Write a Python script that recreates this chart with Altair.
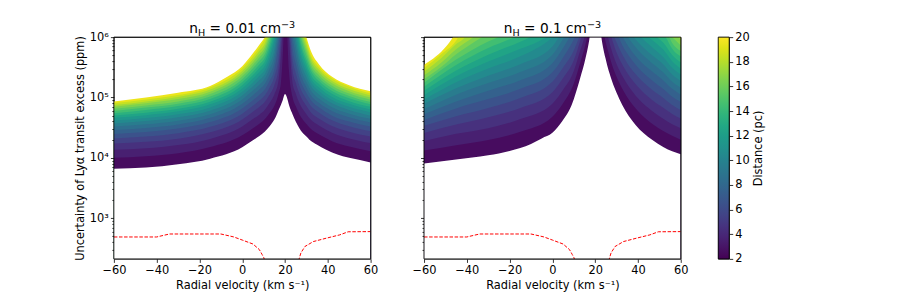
import altair as alt
import pandas as pd

FONT = "DejaVu Sans"
PW, PH = 257, 222
Y_LO, Y_HI = 212, 1e6
X_TICKS = [-60, -40, -20, 0, 20, 40, 60]
Y_TICKS = [300, 400, 500, 600, 700, 800, 900, 1000,
           2000, 3000, 4000, 5000, 6000, 7000, 8000, 9000, 10000,
           20000, 30000, 40000, 50000, 60000, 70000, 80000, 90000, 100000,
           200000, 300000, 400000, 500000, 600000, 700000, 800000, 900000, 1000000]
DIST_TICKS = [2, 4, 6, 8, 10, 12, 14, 16, 18, 20]

a_d2_x = [-60, -45, -30, -15, 0, 5, 8, 10.5, 12.7, 15, 15.8, 17, 18.1, 19, 20, 21.2, 22, 23.6, 25, 26.7, 28, 30, 31.4, 35, 39, 42, 47, 50, 60]
a_d2_y = [6.6e3, 6.9e3, 7.8e3, 9.7e3, 1.5e4, 1.95e4, 2.3e4, 2.7e4, 3.3e4, 4.3e4, 4.9e4, 6.2e4, 7.6e4, 9.2e4, 1.14e5, 9.2e4, 7.2e4, 5.2e4, 4.0e4, 3.1e4, 2.65e4, 2.25e4, 2.0e4, 1.65e4, 1.37e4, 1.23e4, 1.06e4, 1.0e4, 8.4e3]
a_d3_x = [-60, -45, -30, -15, 0, 5, 8, 10.5, 12.7, 15, 17, 18.1, 19.3, 20.2, 21.1, 21.8, 23.5, 25, 26.7, 30, 32, 36, 42, 50, 60]
a_d3_y = [1.0e4, 1.06e4, 1.19e4, 1.51e4, 2.37e4, 3.1e4, 3.67e4, 4.34e4, 5.46e4, 7.3e4, 1.17e5, 1.78e5, 1e6, 1e7, 1e6, 2.9e5, 1.02e5, 7.2e4, 5.3e4, 3.65e4, 3.04e4, 2.43e4, 1.89e4, 1.54e4, 1.29e4]
a_d4_x = [-60, -45, -30, -15, 0, 5, 8, 10.5, 12.7, 15, 17, 18.7, 20.2, 21.8, 23.5, 25, 26.7, 30, 32, 36, 42, 50, 60]
a_d4_y = [1.36e4, 1.44e4, 1.63e4, 2.06e4, 3.3e4, 4.4e4, 5.2e4, 6.2e4, 8.0e4, 1.12e5, 1.96e5, 1e6, 1e7, 1e6, 1.76e5, 1.17e5, 8.1e4, 5.3e4, 4.3e4, 3.4e4, 2.6e4, 2.1e4, 1.76e4]
a_d5_x = [-60, -45, -30, -15, 0, 5, 8, 10.5, 12.7, 15, 17, 18.3, 20.2, 22.15, 23.5, 25, 26.7, 30, 32, 36, 42, 50, 60]
a_d5_y = [1.73e4, 1.84e4, 2.08e4, 2.65e4, 4.32e4, 5.8e4, 6.98e4, 8.4e4, 1.1e5, 1.6e5, 3.1e5, 1e6, 1e7, 1e6, 2.86e5, 1.77e5, 1.16e5, 7.2e4, 5.7e4, 4.43e4, 3.37e4, 2.71e4, 2.25e4]
a_d6_x = [-60, -45, -30, -15, 0, 5, 8, 10.5, 12.7, 15, 17, 17.9, 20.2, 22.5, 23.5, 25, 26.7, 30, 32, 36, 42, 50, 60]
a_d6_y = [2.1e4, 2.25e4, 2.56e4, 3.26e4, 5.4e4, 7.3e4, 8.9e4, 1.08e5, 1.45e5, 2.2e5, 4.7e5, 1e6, 1e7, 1e6, 4.4e5, 2.57e5, 1.58e5, 9.4e4, 7.3e4, 5.6e4, 4.2e4, 3.34e4, 2.76e4]
a_d7_x = [-60, -45, -30, -15, 0, 5, 8, 10.5, 12.7, 15, 17.45, 20.2, 23.0, 23.5, 25, 26.7, 30, 32, 36, 42, 50, 60]
a_d7_y = [2.49e4, 2.68e4, 3.06e4, 3.91e4, 6.6e4, 9.0e4, 1.11e5, 1.36e5, 1.86e5, 2.92e5, 1e6, 1e7, 1e6, 6.7e5, 3.64e5, 2.12e5, 1.19e5, 9.1e4, 6.8e4, 5.0e4, 4.0e4, 3.3e4]
a_d8_x = [-60, -45, -30, -15, 0, 5, 8, 10.5, 12.7, 15, 17, 20.2, 23.5, 25, 26.7, 30, 32, 36, 42, 50, 60]
a_d8_y = [2.9e4, 3.13e4, 3.58e4, 4.6e4, 7.9e4, 1.09e5, 1.36e5, 1.67e5, 2.34e5, 3.8e5, 1e6, 1e7, 1e6, 5.0e5, 2.77e5, 1.48e5, 1.1e5, 8.1e4, 5.96e4, 4.7e4, 3.85e4]
a_d9_x = [-60, -45, -30, -15, 0, 5, 8, 10.5, 12.7, 15, 16.5, 20.2, 24.15, 25, 26.7, 30, 32, 36, 42, 50, 60]
a_d9_y = [3.3e4, 3.59e4, 4.12e4, 5.3e4, 9.3e4, 1.3e5, 1.63e5, 2.02e5, 2.9e5, 4.9e5, 1e6, 1e7, 1e6, 6.9e5, 3.56e5, 1.8e5, 1.32e5, 9.5e4, 6.9e4, 5.4e4, 4.43e4]
a_d10_x = [-60, -45, -30, -15, 0, 5, 8, 10.5, 12.7, 15, 16, 20.2, 24.8, 26.7, 30, 32, 36, 42, 50, 60]
a_d10_y = [3.7e4, 4.07e4, 4.7e4, 6.05e4, 1.08e5, 1.53e5, 1.94e5, 2.41e5, 3.54e5, 6.25e5, 1e6, 1e7, 1e6, 4.5e5, 2.18e5, 1.56e5, 1.11e5, 8.0e4, 6.2e4, 5.0e4]
a_d11_x = [-60, -45, -30, -15, 0, 5, 8, 10.5, 12.7, 15.5, 20.2, 25.4, 26.7, 30, 32, 36, 42, 50, 60]
a_d11_y = [4.15e4, 4.57e4, 5.28e4, 6.84e4, 1.24e5, 1.78e5, 2.28e5, 2.85e5, 4.28e5, 1e6, 1e7, 1e6, 5.7e5, 2.6e5, 1.82e5, 1.27e5, 9.1e4, 7.0e4, 5.66e4]
a_d12_x = [-60, -45, -30, -15, 0, 5, 8, 10.5, 12.7, 15, 20.2, 26, 26.7, 30, 32, 36, 42, 50, 60]
a_d12_y = [4.6e4, 5.1e4, 5.9e4, 7.7e4, 1.41e5, 2.06e5, 2.65e5, 3.35e5, 5.1e5, 1e6, 1e7, 1e6, 7.1e5, 3.08e5, 2.11e5, 1.45e5, 1.02e5, 7.85e4, 6.3e4]
a_d13_x = [-60, -45, -30, -15, 0, 5, 8, 10.5, 12.7, 14.4, 20.2, 26.4, 26.7, 30, 32, 36, 42, 50, 60]
a_d13_y = [5.05e4, 5.6e4, 6.5e4, 8.5e4, 1.6e5, 2.35e5, 3.08e5, 3.9e5, 6.1e5, 1e6, 1e7, 1e6, 8.8e5, 3.63e5, 2.43e5, 1.65e5, 1.15e5, 8.7e4, 7.0e4]
a_d14_x = [-60, -45, -30, -15, 0, 5, 8, 10.5, 12.7, 13.8, 20.2, 26.8, 28, 30, 32, 36, 42, 50, 60]
a_d14_y = [5.5e4, 6.2e4, 7.2e4, 9.4e4, 1.8e5, 2.68e5, 3.53e5, 4.5e5, 7.2e5, 1e6, 1e7, 1e6, 6.7e5, 4.25e5, 2.79e5, 1.85e5, 1.28e5, 9.7e4, 7.7e4]
a_d15_x = [-60, -45, -30, -15, 0, 5, 8, 10.5, 12.7, 13.25, 20.2, 27.3, 30, 32, 36, 42, 50, 60]
a_d15_y = [6.0e4, 6.8e4, 7.9e4, 1.04e5, 2.01e5, 3.04e5, 4.05e5, 5.2e5, 8.5e5, 1e6, 1e7, 1e6, 4.95e5, 3.18e5, 2.08e5, 1.42e5, 1.06e5, 8.4e4]
a_d16_x = [-60, -45, -30, -15, 0, 5, 8, 10.5, 12.7, 20.2, 27.8, 30, 32, 36, 42, 50, 60]
a_d16_y = [6.5e4, 7.4e4, 8.6e4, 1.14e5, 2.24e5, 3.43e5, 4.6e5, 6.0e5, 1e6, 1e7, 1e6, 5.7e5, 3.6e5, 2.32e5, 1.56e5, 1.16e5, 9.2e4]
a_d17_x = [-60, -45, -30, -15, 0, 5, 8, 10.5, 12.15, 20.2, 28.35, 30, 32, 36, 42, 50, 60]
a_d17_y = [7.0e4, 8.0e4, 9.4e4, 1.24e5, 2.49e5, 3.85e5, 5.2e5, 6.8e5, 1e6, 1e7, 1e6, 6.6e5, 4.06e5, 2.58e5, 1.72e5, 1.27e5, 1.0e5]
a_d18_x = [-60, -45, -30, -15, 0, 5, 8, 10.5, 11.6, 20.2, 28.9, 30, 32, 36, 42, 50, 60]
a_d18_y = [7.5e4, 8.6e4, 1.02e5, 1.35e5, 2.75e5, 4.3e5, 5.9e5, 7.8e5, 1e6, 1e7, 1e6, 7.6e5, 4.6e5, 2.85e5, 1.88e5, 1.38e5, 1.08e5]
a_d19_x = [-60, -45, -30, -15, 0, 5, 8, 11.05, 20.2, 29.45, 30, 32, 36, 42, 50, 60]
a_d19_y = [8.1e4, 9.3e4, 1.1e5, 1.47e5, 3.04e5, 4.8e5, 6.7e5, 1e6, 1e7, 1e6, 8.7e5, 5.1e5, 3.15e5, 2.06e5, 1.5e5, 1.17e5]
a_d20_x = [-60, -45, -30, -15, -7, 0, 5, 8, 10.5, 20.2, 30, 32, 36, 42, 50, 60]
a_d20_y = [8.6e4, 1.0e5, 1.2e5, 1.55e5, 2.2e5, 3.3e5, 5.4e5, 7.5e5, 1e6, 1e7, 1e6, 6.0e5, 3.5e5, 2.2e5, 1.6e5, 1.27e5]

# ============ n_H = 0.1 cm^-3 ============
b_d2_x = [-60, -45, -30, -20, -10, -5, 0, 4.5, 9, 13, 15.5, 17.4, 20.15, 22.9, 24.8, 27.9, 30, 32.6, 38.8, 46.6, 52, 60]
b_d2_y = [8.1e3, 9.4e3, 1.1e4, 1.3e4, 1.7e4, 2.1e4, 2.6e4, 4.0e4, 7.5e4, 2.1e5, 4.5e5, 1e6, 1e7, 1e6, 4.5e5, 1.86e5, 1.2e5, 7.6e4, 3.55e4, 2.0e4, 1.5e4, 1.15e4]
b_d3_x = [-60, -45, -30, -15, 0, 5, 10, 13, 16.2, 20.3, 24.4, 26, 27.9, 30, 33, 35, 40, 46.6, 52, 56, 60]
b_d3_y = [1.32e4, 1.62e4, 1.97e4, 2.7e4, 4.8e4, 8.0e4, 1.7e5, 3.77e5, 1e6, 1e7, 1e6, 5.97e5, 3.47e5, 2.21e5, 1.33e5, 1.01e5, 5.96e4, 3.66e4, 2.75e4, 2.32e4, 2.0e4]
b_d4_x = [-60, -45, -30, -15, 0, 5, 10, 13, 15, 20.5, 26, 27.9, 30, 33, 35, 40, 46.6, 52, 56, 60]
b_d4_y = [1.9e4, 2.5e4, 3.1e4, 4.4e4, 7.9e4, 1.34e5, 2.75e5, 6.0e5, 1e6, 1e7, 1e6, 5.75e5, 3.6e5, 2.18e5, 1.66e5, 9.7e4, 6.0e4, 4.4e4, 3.6e4, 3.1e4]
b_d5_x = [-60, -45, -30, -15, 0, 5, 10, 13.5, 20.5, 27.6, 30, 33, 35, 40, 46.6, 52, 56, 60]
b_d5_y = [2.58e4, 3.56e4, 4.7e4, 6.7e4, 1.22e5, 2.1e5, 4.15e5, 1e6, 1e7, 1e6, 5.56e5, 3.35e5, 2.54e5, 1.5e5, 9.1e4, 6.7e4, 5.35e4, 4.48e4]
b_d6_x = [-60, -45, -30, -15, 0, 5, 10, 12.5, 20.7, 29, 30, 33, 35, 40, 46.6, 52, 56, 60]
b_d6_y = [3.4e4, 4.9e4, 6.7e4, 9.8e4, 1.82e5, 3.15e5, 6.0e5, 1e6, 1e7, 1e6, 8.2e5, 4.9e5, 3.7e5, 2.2e5, 1.34e5, 9.7e4, 7.5e4, 6.2e4]
b_d7_x = [-60, -45, -30, -15, 0, 5, 10.5, 20.7, 31, 33, 35, 40, 46.6, 52, 56, 60]
b_d7_y = [4.25e4, 6.6e4, 9.4e4, 1.39e5, 2.61e5, 4.6e5, 1e6, 1e7, 1e6, 7.0e5, 5.35e5, 3.15e5, 1.92e5, 1.37e5, 1.03e5, 8.4e4]
b_d8_x = [-60, -45, -30, -15, 0, 5, 8, 20.5, 33, 35, 40, 46.6, 52, 56, 60]
b_d8_y = [5.3e4, 8.6e4, 1.29e5, 1.93e5, 3.7e5, 6.6e5, 1e6, 1e7, 1e6, 7.5e5, 4.4e5, 2.7e5, 1.9e5, 1.39e5, 1.12e5]
b_d9_x = [-60, -45, -30, -15, 0, 5.5, 20.4, 35.3, 40, 46.6, 52, 56, 60]
b_d9_y = [6.4e4, 1.11e5, 1.73e5, 2.64e5, 5.1e5, 1e6, 1e7, 1e6, 6.1e5, 3.7e5, 2.58e5, 1.83e5, 1.46e5]
b_d10_x = [-60, -45, -30, -15, 0, 3, 20.5, 38, 40, 46.6, 52, 56, 60]
b_d10_y = [7.8e4, 1.42e5, 2.3e5, 3.57e5, 7.0e5, 1e6, 1e7, 1e6, 8.3e5, 5.0e5, 3.5e5, 2.4e5, 1.88e5]
b_d11_x = [-60, -45, -30, -15, 0, 20.7, 41.5, 46.6, 52, 56, 60]
b_d11_y = [9.2e4, 1.79e5, 3.03e5, 4.8e5, 1e6, 1e7, 1e6, 6.8e5, 4.6e5, 3.1e5, 2.4e5]
b_d12_x = [-60, -45, -30, -15, -3, 21, 45, 46.6, 52, 56, 60]
b_d12_y = [1.09e5, 2.24e5, 3.95e5, 6.4e5, 1e6, 1e7, 1e6, 9.0e5, 6.1e5, 4.0e5, 3.0e5]
b_d13_x = [-60, -45, -30, -15, -10.5, 19, 49, 52, 56, 60]
b_d13_y = [1.29e5, 2.79e5, 5.1e5, 8.4e5, 1e6, 1e7, 1e6, 8.0e5, 5.05e5, 3.8e5]
b_d14_x = [-60, -45, -30, -18, 17.5, 53, 56, 60]
b_d14_y = [1.5e5, 3.45e5, 6.6e5, 1e6, 1e7, 1e6, 6.4e5, 4.8e5]
b_d15_x = [-60, -45, -30, -25.5, 14.5, 54.5, 56, 60]
b_d15_y = [1.75e5, 4.25e5, 8.5e5, 1e6, 1e7, 1e6, 8.0e5, 5.9e5]
b_d16_x = [-60, -52, -45, -33, 11.5, 56, 60]
b_d16_y = [2.0e5, 3.19e5, 5.2e5, 1e6, 1e7, 1e6, 7.3e5]
b_d17_x = [-60, -52, -45, -37, 11, 59, 60]
b_d17_y = [2.33e5, 3.78e5, 6.3e5, 1e6, 1e7, 1e6, 9.0e5]
b_d18_x = [-60, -52, -45, -41, -37, 60]
b_d18_y = [2.67e5, 4.47e5, 7.7e5, 1e6, 2e6, 1e7]
b_d19_x = [-60, -52, -44, -40, 60]
b_d19_y = [3.06e5, 5.2e5, 1e6, 2e6, 1e7]
b_d20_x = [-60, -54.4, -49.7, -46.5, -42, 60]
b_d20_y = [3.5e5, 4.8e5, 7.0e5, 1e6, 2e6, 1e7]

# ============ red dashed curve (same in both panels) ============
red_l_x = [-60, -40, -34, -10, -4, 0, 5, 8, 9.3, 10.0, 10.6]
red_l_y = [489, 489, 548, 548, 490, 435, 374, 302, 250, 225, 195]
red_r_x = [26.3, 27.4, 29.3, 33.2, 39.4, 45.6, 49.5, 60]
red_r_y = [195, 265, 340, 410, 468, 530, 596, 600]

VIRIDIS = ["#440154", "#471365", "#482475", "#463480", "#414487", "#3b528b", "#355f8d",
           "#2f6c8e", "#2a788e", "#25848e", "#21918c", "#1e9c89", "#22a884", "#2fb47c",
           "#44bf70", "#5ec962", "#7ad151", "#9bd93c", "#bddf26", "#dfe318", "#fde725"]

A = {d: (globals()[f"a_d{d}_x"], globals()[f"a_d{d}_y"]) for d in range(2, 21)}
B = {d: (globals()[f"b_d{d}_x"], globals()[f"b_d{d}_y"]) for d in range(2, 21)}

red_df = pd.concat([
    pd.DataFrame({"v": red_l_x, "u": red_l_y, "seg": "a"}),
    pd.DataFrame({"v": red_r_x, "u": red_r_y, "seg": "b"}),
])

MAJOR_TEST = "datum.value==1000||datum.value==10000||datum.value==100000||datum.value==1000000"
xsc = alt.Scale(domain=[-60, 60], nice=False, zero=False)
ysc = alt.Scale(type="log", domain=[Y_LO, Y_HI], nice=False)
csc = alt.Scale(scheme="viridis", domain=[2, 20])
xax = alt.Axis(values=X_TICKS, title="Radial velocity (km s⁻¹)", tickSize=3.5,
               labelPadding=2, titlePadding=4, labelFlush=False, labelOverlap=False)

ONE = pd.DataFrame({"k": [0]})


def y_axis(labels):
    kw = dict(values=Y_TICKS, labelOverlap=False, labelFlush=False,
              tickSize={"condition": {"test": MAJOR_TEST, "value": 3.5}, "value": 2},
              labelPadding=2)
    if labels:
        kw.update(labelExpr="datum.value==1000?'10³':datum.value==10000?'10⁴':"
                            "datum.value==100000?'10⁵':datum.value==1000000?'10⁶':''",
                  title="Uncertainty of Lyα transit excess (ppm)", titlePadding=4)
    else:
        kw.update(labels=False, title=None)
    return alt.Axis(**kw)


def title_layers(pieces, opacity=1):
    out = []
    for txt, px, dy, fs in pieces:
        out.append(alt.Chart(ONE).mark_text(
            text=txt, align="left", baseline="alphabetic", font=FONT, fontSize=fs,
            color="black", opacity=opacity).encode(x=alt.value(px), y=alt.value(-4 + dy)))
    return out


def frame(w, h):
    return alt.Chart(ONE).mark_rect(filled=False, stroke="black", strokeWidth=0.8).encode(
        x=alt.value(0), x2=alt.value(w), y=alt.value(0), y2=alt.value(h))


def panel(table, pieces, labels, extender=None):
    yax = y_axis(labels)
    layers = []
    for d in range(20, 2, -1):
        xs, ys = table[d]
        df = pd.DataFrame({"v": xs, "u": ys, "mid": [d - 0.5] * len(xs)})
        layers.append(alt.Chart(df).mark_area(clip=True, interpolate="monotone").encode(
            x=alt.X("v:Q", scale=xsc, axis=xax),
            y=alt.Y("u:Q", scale=ysc, axis=yax, stack=None),
            y2=alt.value(PH),
            color=alt.Color("mid:Q", scale=csc, legend=None)))
    xs, ys = table[2]
    layers.append(alt.Chart(pd.DataFrame({"v": xs, "u": ys})).mark_area(
        clip=True, color="white", interpolate="monotone").encode(
        x=alt.X("v:Q", scale=xsc, axis=xax),
        y=alt.Y("u:Q", scale=ysc, axis=yax, stack=None),
        y2=alt.value(PH)))
    layers.append(alt.Chart(red_df).mark_line(color="red", strokeWidth=1, strokeDash=[3.5, 1.6], clip=True).encode(
        x=alt.X("v:Q", scale=xsc, axis=xax),
        y=alt.Y("u:Q", scale=ysc, axis=yax),
        detail="seg:N"))
    layers.append(frame(PW, PH))
    layers += title_layers(pieces)
    if extender is not None:
        layers.append(alt.Chart(ONE).mark_point(opacity=0, size=1).encode(
            x=alt.value(extender), y=alt.value(100)))
    return alt.layer(*layers).properties(width=PW, height=PH)


left_title = [("n", 75.5, 0, 13.7), ("H", 84.2, 2.6, 9.6), ("= 0.01 cm", 95.8, 0, 13.7), ("−3", 167.4, -5, 9.6)]
right_title = [("n", 79.9, 0, 13.7), ("H", 88.6, 2.6, 9.6), ("= 0.1 cm", 100.2, 0, 13.7), ("−3", 163.1, -5, 9.6)]

left = panel(A, left_title, True, extender=268)
right = panel(B, right_title, False)

grad = alt.LinearGradient(gradient="linear", x1=0, x2=0, y1=1, y2=0,
                          stops=[alt.GradientStop(color=c, offset=i / (len(VIRIDIS) - 1))
                                 for i, c in enumerate(VIRIDIS)])
cb_df = pd.DataFrame({"lo": [DIST_TICKS[0]], "hi": [DIST_TICKS[-1]]})
cbar = alt.Chart(cb_df).mark_rect(color=grad).encode(
    x=alt.value(0), x2=alt.value(11),
    y=alt.Y("lo:Q", scale=alt.Scale(domain=[2, 20], nice=False, zero=False),
            axis=alt.Axis(orient="right", values=DIST_TICKS, title="Distance (pc)",
                          titleAngle=270, titleBaseline="top", tickSize=3.5, labelPadding=2,
                          titlePadding=3, labelFlush=False, labelOverlap=False)),
    y2="hi:Q")
colorbar = alt.layer(cbar, frame(11, PH), *title_layers(left_title, opacity=0)).properties(width=11, height=PH)

chart = alt.hconcat(left, right, colorbar, spacing=28.5).properties(
    padding={"left": 66, "top": 11, "right": 5, "bottom": 5}
).configure(font=FONT, background="white").configure_view(
    stroke="black", strokeWidth=0.8
).configure_axis(
    domain=False, grid=False, tickColor="black", tickWidth=0.8,
    labelColor="black", labelFont=FONT, labelFontSize=11.4,
    titleColor="black", titleFont=FONT, titleFontSize=11.4, titleFontWeight="normal"
)

chart.save("out.html", embed_options={"renderer": "svg", "actions": False})
